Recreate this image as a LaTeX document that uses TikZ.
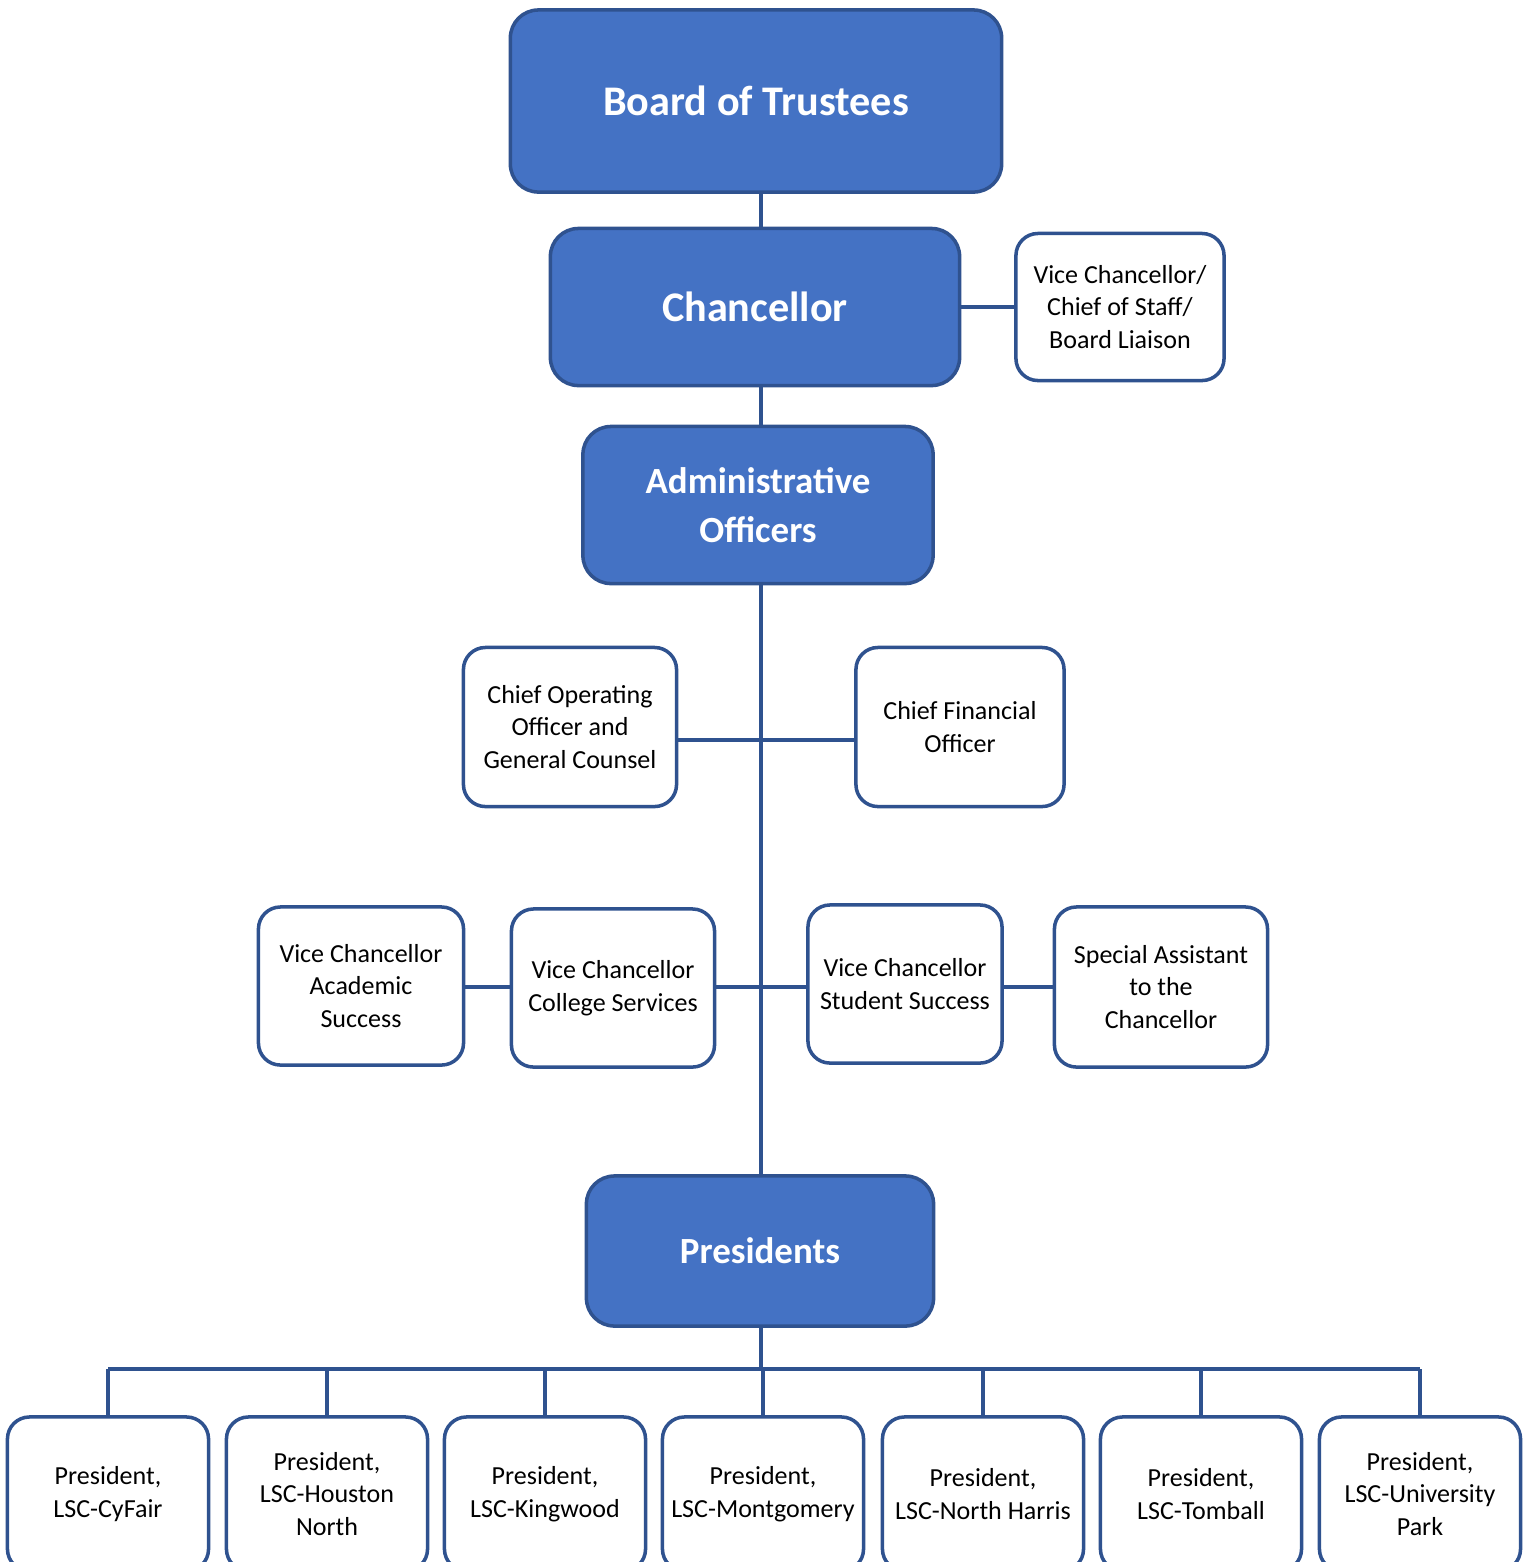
\documentclass[tikz,border=0pt]{standalone}
\usepackage{fontspec}
\setmainfont{Carlito}
\definecolor{boxblue}{HTML}{4472C4}
\definecolor{lineblue}{HTML}{2F528F}
\tikzset{
  topbox/.style={draw=lineblue, fill=boxblue, line width=1pt, rounded corners=0.28cm, inner sep=0pt,
    text=white, align=center, font=\fontsize{12}{15}\selectfont\bfseries},
  midbox/.style={topbox, font=\fontsize{10.5}{13.9}\selectfont\bfseries},
  staffbox/.style={draw=lineblue, fill=white, line width=1pt, rounded corners=0.22cm, inner sep=0pt,
    align=center, font=\fontsize{7.4}{9.3}\selectfont},
  campusbox/.style={staffbox, minimum width=2.01cm, minimum height=1.54cm},
  link/.style={draw=lineblue, line width=0.9pt}
}

\begin{document}
\begin{tikzpicture}[x=0.01cm, y=-0.01cm]
                \useasboundingbox (0,0) rectangle (1531,1562);
                \clip (0,0) rectangle (1531,1562);
                \coordinate (spine) at (761,0);
                \coordinate (row1) at (0,740);
                \coordinate (row2) at (0,987);
                \coordinate (bus) at (0,1369);

                \node[topbox, minimum width=4.91cm, minimum height=1.82cm] (board) at (756,101) {Board of Trustees};
                \node[topbox, minimum width=4.09cm, minimum height=1.57cm] (chanc) at (755,307) {Chancellor};
                \node[staffbox, minimum width=2.08cm, minimum height=1.47cm] (staff) at (1120,307) {Vice Chancellor/\\Chief of Staff/\\Board Liaison};
                \node[midbox, minimum width=3.5cm, minimum height=1.57cm] (admin) at (758,505) {Administrative\\Officers};

                \node[staffbox, minimum width=2.13cm, minimum height=1.59cm] (coo) at (570,727) {Chief Operating\\Officer and\\General Counsel};
                \node[staffbox, minimum width=2.08cm, minimum height=1.59cm] (cfo) at (960,727) {Chief Financial\\Officer};

                \node[staffbox, minimum width=2.05cm, minimum height=1.58cm] (vcacad) at (361,986) {Vice Chancellor\\Academic\\Success};
                \node[staffbox, minimum width=2.03cm, minimum height=1.58cm] (vccoll) at (613,988) {Vice Chancellor\\College Services};
                \node[staffbox, minimum width=1.94cm, minimum height=1.58cm] (vcstud) at (905,984) {Vice Chancellor\\Student Success};
                \node[staffbox, minimum width=2.13cm, minimum height=1.60cm] (special) at (1161,987) {Special Assistant\\to the\\Chancellor};

                \node[midbox, minimum width=3.47cm, minimum height=1.50cm] (pres) at (760,1251) {Presidents};

                \foreach \cx/\nm/\txt in {108/cyfair/{President,\\LSC-CyFair}, 327/houston/{President,\\LSC-Houston\\North},
                    545/kingwood/{President,\\LSC-Kingwood}, 763/montgomery/{President,\\LSC-Montgomery},
                    983/northharris/{President,\\LSC-North Harris}, 1201/tomball/{President,\\LSC-Tomball},
                    1420/upark/{President,\\LSC-University\\Park}}
                    \node[campusbox] (\nm) at (\cx,1494) {\txt};

                \draw[link] (board.south -| spine) -- (chanc.north -| spine);
                \draw[link] (chanc.south -| spine) -- (admin.north -| spine);
                \draw[link] (chanc.east) -- (staff.west);
                \draw[link] (admin.south -| spine) -- (pres.north -| spine);
                \draw[link] (coo.east |- row1) -- (cfo.west |- row1);
                \draw[link] (vcacad.east |- row2) -- (vccoll.west |- row2);
                \draw[link] (vccoll.east |- row2) -- (vcstud.west |- row2);
                \draw[link] (vcstud.east |- row2) -- (special.west |- row2);
                \draw[link] (pres.south -| spine) -- (spine |- bus);
                \draw[link] (cyfair.north |- bus) -- (upark.north |- bus);
                \foreach \nm in {cyfair, houston, kingwood, montgomery, northharris, tomball, upark}
                    \draw[link] (\nm.north |- bus) -- (\nm.north);
\end{tikzpicture}
\end{document}
